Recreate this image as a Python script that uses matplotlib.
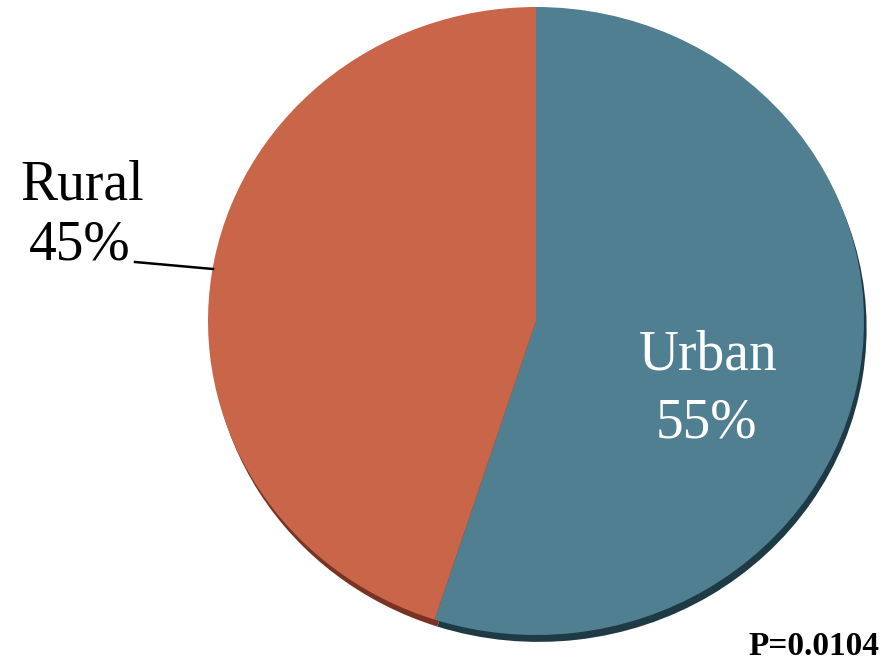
import matplotlib
matplotlib.use("Agg")
import matplotlib.pyplot as plt

labels = ["Urban", "Rural"]
shares = [55, 45]
colors = ["#4F7F90", "#C9664A"]
rim_colors = ["#1E3A45", "#7A3322"]
p_text = "P=0.0104"

SERIF = ["Liberation Serif", "DejaVu Serif"]
W, H = 895, 663

fig = plt.figure(figsize=(W / 100, H / 100), dpi=100)
# top face of the pie in pixels: centre (536, 321), rx 328, ry 314
CX, CY, RX, RY = 536, 321, 328, 314
ax = fig.add_axes([(CX - RX) / W, 1 - (CY + RY) / H, 2 * RX / W, 2 * RY / H])

# dark rim of the tilted disc
rim, _ = ax.pie(shares, colors=rim_colors, startangle=90, counterclock=False,
                center=(0.008, -0.022), radius=1.0, frame=True,
                wedgeprops=dict(linewidth=0))
for w in rim:
    w.set_clip_on(False)
ax.pie(shares, colors=colors, startangle=90, counterclock=False,
       center=(0, 0), radius=1.0, frame=True,
       wedgeprops=dict(linewidth=0))
ax.set_xlim(-1, 1); ax.set_ylim(-1, 1)
ax.set_aspect("auto"); ax.axis("off")


def px(x, y):
    return x / W, 1 - y / H


# Rural label with leader line
fig.text(*px(82, 200), labels[1], family=SERIF, fontsize=40, ha="center", va="baseline", color="black")
fig.text(*px(80, 260), f"{shares[1]}%", family=SERIF, fontsize=40, ha="center", va="baseline", color="black")
fig.add_artist(plt.Line2D([135 / W, 213 / W], [1 - 262 / H, 1 - 269 / H], color="black", lw=1.8))

# Urban label
fig.text(*px(708, 370), labels[0], family=SERIF, fontsize=40, ha="center", va="baseline", color="white")
fig.text(*px(706, 437), f"{shares[0]}%", family=SERIF, fontsize=40, ha="center", va="baseline", color="white")

fig.text(*px(879, 655), p_text, family=SERIF, fontsize=24, weight="bold", ha="right", va="baseline", color="black")

fig.savefig("out.png", dpi=100, facecolor="white")
